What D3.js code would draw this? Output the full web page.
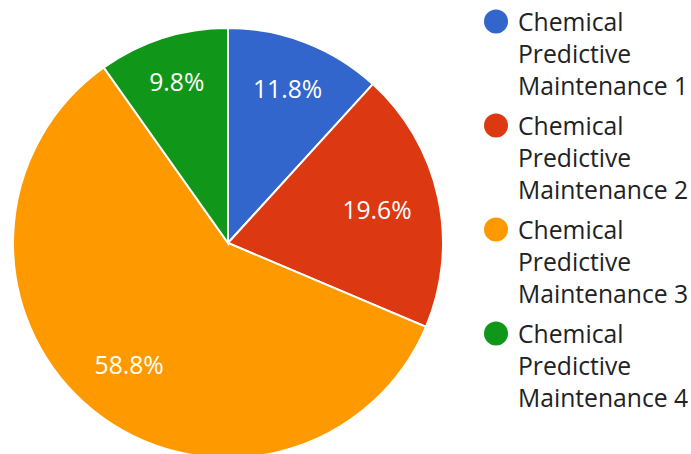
<!DOCTYPE html>
<html>
<head>
<meta charset="utf-8">
<script src="https://cdn.jsdelivr.net/npm/d3@7"></script>
<style>
  html, body { margin: 0; padding: 0; background: #fff; }
  svg { display: block; font-family: "Open Sans", "Noto Sans", sans-serif; }
</style>
</head>
<body>
<div id="chart"></div>
<script>
(function() {
  var width = 691,
      height = 454;

  // slices, clockwise from 12 o'clock
  var categories = [
    "Chemical Predictive Maintenance 1",
    "Chemical Predictive Maintenance 2",
    "Chemical Predictive Maintenance 3",
    "Chemical Predictive Maintenance 4"
  ];
  var counts = [6, 10, 30, 5];
  var colors = ["#3366cc", "#dc3912", "#ff9900", "#109618"];
  var legendLines = [
    ["Chemical", "Predictive", "Maintenance 1"],
    ["Chemical", "Predictive", "Maintenance 2"],
    ["Chemical", "Predictive", "Maintenance 3"],
    ["Chemical", "Predictive", "Maintenance 4"]
  ];

  var cx = 228, cy = 243, radius = 215;

  var svg = d3.select("#chart").append("svg")
      .attr("width", width)
      .attr("height", height);

  var total = d3.sum(counts);
  var fmt = d3.format(".1%");

  var pie = d3.pie().sort(null).value(d => d);
  var arcs = pie(counts);
  var arc = d3.arc().innerRadius(0).outerRadius(radius);

  var g = svg.append("g")
      .attr("transform", `translate(${cx},${cy})`);

  g.selectAll("path")
    .data(arcs)
    .join("path")
      .attr("d", arc)
      .attr("fill", (d, i) => colors[i])
      .attr("stroke", "#fff")
      .attr("stroke-width", 2);

  // labels pushed out so the box's outer edge sits on a fixed radius
  var labelEdge = 189, fontSize = 24.7;
  g.selectAll("text.pct")
    .data(arcs)
    .join("text")
      .attr("class", "pct")
      .attr("font-size", fontSize + "px")
      .attr("fill", "#fff")
      .attr("text-anchor", "middle")
      .attr("dy", "0.35em")
      .text(d => fmt(d.value / total))
      .each(function(d) {
        var w = this.getComputedTextLength(),
            a = (d.startAngle + d.endAngle) / 2,
            ux = Math.sin(a), uy = -Math.cos(a),
            dist = labelEdge - (w / 2 * Math.abs(ux) + fontSize / 2 * Math.abs(uy));
        d3.select(this).attr("x", ux * dist).attr("y", uy * dist);
      });

  // legend
  var legendY = d3.scaleBand()
      .domain(categories)
      .range([5, 5 + 104 * categories.length]);

  var legend = svg.append("g")
      .attr("transform", "translate(496,0)");

  var item = legend.selectAll("g")
    .data(categories)
    .join("g")
      .attr("transform", d => `translate(0,${legendY(d)})`);

  item.append("circle")
      .attr("cx", 0)
      .attr("cy", 16.5)
      .attr("r", 12)
      .attr("fill", (d, i) => colors[i]);

  item.append("text")
      .attr("font-size", fontSize + "px")
      .attr("fill", "#222")
    .selectAll("tspan")
    .data((d, i) => legendLines[i])
    .join("tspan")
      .attr("x", 22)
      .attr("y", (d, i) => 25.5 + i * 32)
      .text(d => d);
})();
</script>
</body>
</html>
